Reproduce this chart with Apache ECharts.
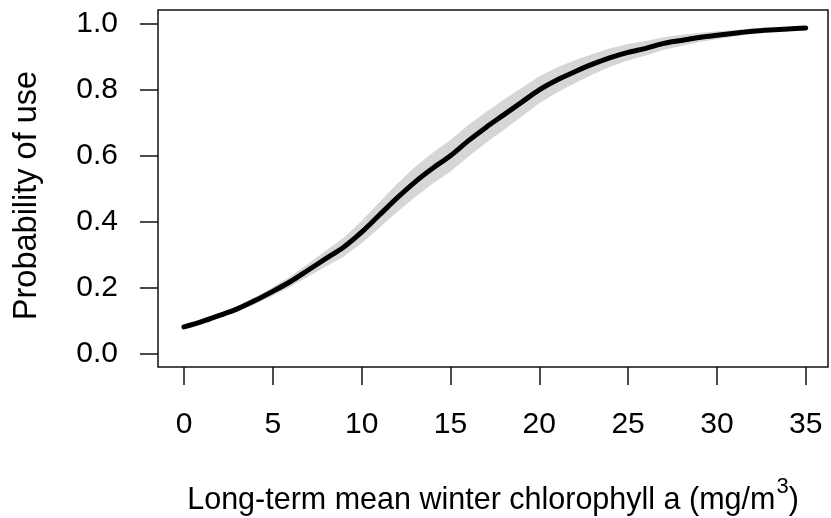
<!DOCTYPE html>
<html>
<head>
<meta charset="utf-8">
<script src="https://cdn.jsdelivr.net/npm/echarts@6/dist/echarts.min.js"></script>
<style>
  html, body { margin: 0; padding: 0; background: #fff; }
  #chart { width: 831px; height: 518px; }
</style>
</head>
<body>
<div id="chart"></div>
<script>
// chlorophyll a (mg/m3) at which the fit was read
const chlorophyll = [0, 1, 2, 3, 4, 5, 6, 7, 8, 9, 10, 11, 12, 13, 14, 15, 16, 17,
  18, 19, 20, 21, 22, 23, 24, 25, 26, 27, 28, 29, 30, 31, 32, 33, 34, 35]
// fitted probability of use
const probFit = [0.080, 0.096, 0.115, 0.135, 0.160, 0.188, 0.218, 0.253, 0.288, 0.323,
  0.368, 0.420, 0.472, 0.520, 0.562, 0.600, 0.645, 0.686, 0.724, 0.762, 0.800, 0.830,
  0.855, 0.878, 0.898, 0.914, 0.926, 0.941, 0.950, 0.959, 0.966, 0.972, 0.978, 0.982,
  0.985, 0.988]
// confidence band
const probLower = [0.076, 0.091, 0.109, 0.127, 0.150, 0.175, 0.202, 0.233, 0.264, 0.294,
  0.334, 0.381, 0.429, 0.474, 0.515, 0.552, 0.597, 0.639, 0.678, 0.718, 0.759, 0.792,
  0.820, 0.847, 0.870, 0.889, 0.904, 0.922, 0.933, 0.945, 0.954, 0.962, 0.970, 0.976,
  0.980, 0.984]
const probUpper = [0.084, 0.101, 0.121, 0.143, 0.170, 0.201, 0.234, 0.273, 0.312, 0.352,
  0.402, 0.459, 0.515, 0.566, 0.609, 0.648, 0.693, 0.733, 0.770, 0.806, 0.841, 0.868,
  0.890, 0.909, 0.926, 0.939, 0.948, 0.960, 0.967, 0.973, 0.978, 0.982, 0.986, 0.988,
  0.990, 0.992]
const xTickValues = [0, 5, 10, 15, 20, 25, 30, 35]
const yTickValues = [0, 0.2, 0.4, 0.6, 0.8, 1.0]

const font = "'Liberation Sans', Arial, sans-serif"
const ink = '#000'

const chart = echarts.init(document.getElementById('chart'))

chart.setOption({
  animation: false,
  backgroundColor: '#fff',
  grid: {
    left: 158, right: 3, top: 10, bottom: 151,
    show: true, borderColor: '#111', borderWidth: 1.5
  },
  xAxis: {
    type: 'value',
    // R pads the data range by 4 %
    min: -1.464,
    max: 36.256,
    axisLine: { show: false, onZero: false },
    axisTick: { show: true, length: 18, customValues: xTickValues, lineStyle: { color: '#111', width: 1.5 } },
    splitLine: { show: false },
    axisLabel: { customValues: xTickValues, color: ink, fontFamily: font, fontSize: 30, margin: 43 }
  },
  yAxis: {
    type: 'value',
    min: -0.0416,
    max: 1.0425,
    axisLine: { show: false, onZero: false },
    axisTick: { show: true, length: 18, customValues: yTickValues, lineStyle: { color: '#111', width: 1.5 } },
    splitLine: { show: false },
    axisLabel: {
      customValues: yTickValues, color: ink, fontFamily: font, fontSize: 30, margin: 40,
      formatter: v => v.toFixed(1)
    }
  },
  series: [
    {
      // confidence band as one polygon
      type: 'custom',
      silent: true,
      data: chlorophyll.map((x, i) => [x, probLower[i], probUpper[i]]),
      renderItem: (params, api) => {
        if (params.dataIndex !== 0) return null
        const top = chlorophyll.map((x, i) => api.coord([x, probUpper[i]]))
        const bottom = chlorophyll.map((x, i) => api.coord([x, probLower[i]])).reverse()
        return {
          type: 'polygon',
          shape: { points: top.concat(bottom), smooth: 0 },
          style: { fill: '#d6d6d6' }
        }
      }
    },
    {
      type: 'line',
      symbol: 'none',
      smooth: 0.3,
      clip: false,
      lineStyle: { color: '#000', width: 5, cap: 'round', join: 'round' },
      data: chlorophyll.map((x, i) => [x, probFit[i]])
    }
  ],
  graphic: [
    {
      type: 'text',
      x: 27,
      y: 195.5,
      rotation: Math.PI / 2,
      style: {
        text: 'Probability of use',
        fill: ink,
        font: '32.5px ' + font,
        textAlign: 'center',
        textVerticalAlign: 'middle'
      }
    },
    {
      type: 'text',
      x: 493,
      y: 496,
      style: {
        text: '{a|Long-term mean winter chlorophyll a (mg/m}{s|3}{a|)}',
        fill: ink,
        textAlign: 'center',
        textVerticalAlign: 'middle',
        rich: {
          a: { fontFamily: font, fontSize: 30.5, fill: ink, lineHeight: 40, verticalAlign: 'bottom' },
          s: { fontFamily: font, fontSize: 22, fill: ink, lineHeight: 40, verticalAlign: 'top', padding: [0, 0, 0, 1] }
        }
      }
    }
  ]
})
</script>
</body>
</html>
